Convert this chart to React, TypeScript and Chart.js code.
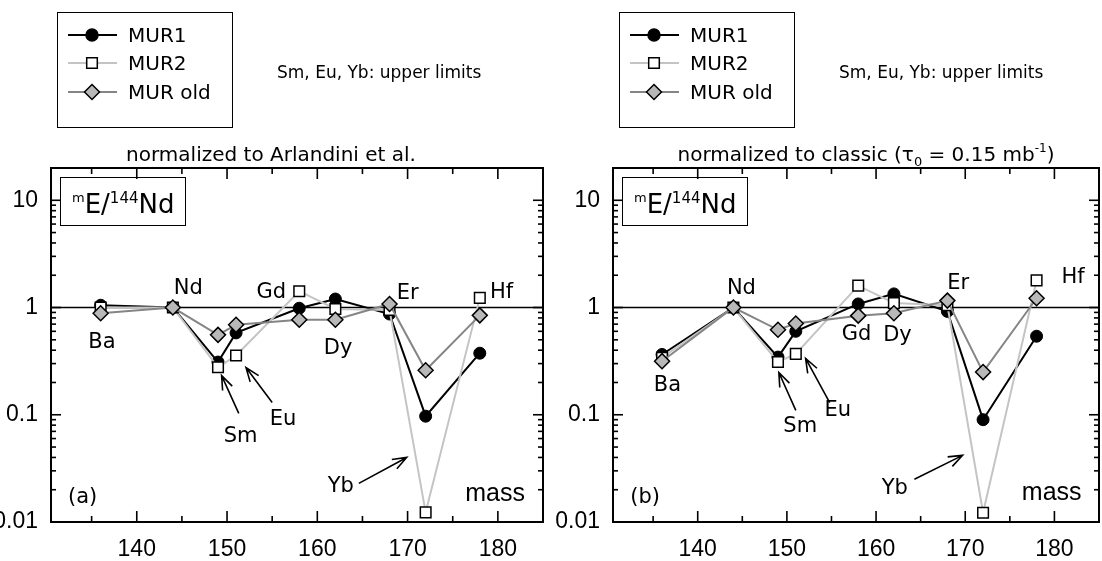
import React, { useEffect, useRef } from "react";
import { Chart, registerables } from "chart.js";

Chart.register(...registerables);

// ---------------- data ----------------
const masses = [136, 144, 149, 151, 158, 162, 168, 172, 178];
const elementLabels = ["Ba", "Nd", "Sm", "Eu", "Gd", "Dy", "Er", "Yb", "Hf"];
const xTickValues = [140, 150, 160, 170, 180];
const xMinorTicks = [135, 145, 155, 165, 175];
const yTickValues = [0.01, 0.1, 1, 10];
const seriesNames = ["MUR1", "MUR2", "MUR old"];

// panel (a): normalized to Arlandini et al.
const arlMUR1 = [1.05, 1.0, 0.31, 0.58, 0.985, 1.2, 0.87, 0.097, 0.375];
const arlMUR2 = [1.0, 1.0, 0.277, 0.357, 1.42, 0.97, 0.95, 0.0123, 1.23];
const arlMURold = [0.885, 1.0, 0.556, 0.69, 0.77, 0.77, 1.08, 0.26, 0.845];

// panel (b): normalized to classic
const clsMUR1 = [0.365, 1.0, 0.345, 0.6, 1.08, 1.34, 0.92, 0.09, 0.54];
const clsMUR2 = [0.34, 1.0, 0.31, 0.37, 1.6, 1.1, 1.05, 0.0122, 1.79];
const clsMURold = [0.316, 1.0, 0.62, 0.71, 0.84, 0.885, 1.16, 0.25, 1.22];

// ---------------- styles ----------------
const COMIC = '"DejaVu Sans", "Noto Sans", sans-serif';
const ARIAL = '"Liberation Sans", Arial, sans-serif';
const C_MUR1 = "#000000";
const C_MUR2 = "#c4c4c4";
const C_OLD = "#858585";
const C_OLD_FILL = "#b8b8b8";

type Seg = { t: string; size: number; dy?: number };
type Pt = [number, number];

interface PanelCfg {
  key: string;
  canvasLeft: number;
  canvasWidth: number;
  yAxisWidth: number;
  padRight: number;
  mur1: number[];
  mur2: number[];
  murOld: number[];
  subtitle: Seg[];
  subtitleCenter: number;
  tag: string;
  tagPos: Pt;
  massPos: Pt;
  labelPos: Record<string, Pt>;
  arrows: [Pt, Pt][];
}

const panelA: PanelCfg = {
  key: "a",
  canvasLeft: 0,
  canvasWidth: 556,
  yAxisWidth: 51,
  padRight: 13,
  mur1: arlMUR1,
  mur2: arlMUR2,
  murOld: arlMURold,
  subtitle: [{ t: "normalized to Arlandini et al.", size: 20 }],
  subtitleCenter: 220,
  tag: "(a)",
  tagPos: [134.0, 0.0169],
  massPos: [179.7, 0.0181],
  labelPos: {
    Ba: [136.15, 0.472],
    Nd: [145.7, 1.5],
    Gd: [154.9, 1.38],
    Dy: [162.3, 0.415],
    Er: [170.0, 1.35],
    Hf: [180.4, 1.38],
    Sm: [151.5, 0.0628],
    Eu: [156.2, 0.0904],
    Yb: [162.6, 0.0215],
  },
  arrows: [
    [[151.3, 0.103], [149.4, 0.232]],
    [[155.0, 0.13], [152.1, 0.276]],
    [[164.6, 0.0229], [169.9, 0.04]],
  ],
};

const panelB: PanelCfg = {
  key: "b",
  canvasLeft: 556,
  canvasWidth: 552,
  yAxisWidth: 57,
  padRight: 3,
  mur1: clsMUR1,
  mur2: clsMUR2,
  murOld: clsMURold,
  subtitle: [
    { t: "normalized to classic (", size: 20 },
    { t: "τ", size: 20 },
    { t: "0", size: 13, dy: 5 },
    { t: " = 0.15 mb", size: 20 },
    { t: "-1", size: 12, dy: -9 },
    { t: ")", size: 20 },
  ],
  subtitleCenter: 253,
  tag: "(b)",
  tagPos: [134.1, 0.0169],
  massPos: [179.7, 0.0185],
  labelPos: {
    Ba: [136.6, 0.188],
    Nd: [144.9, 1.5],
    Gd: [157.8, 0.56],
    Dy: [162.4, 0.548],
    Er: [169.2, 1.67],
    Hf: [182.1, 1.9],
    Sm: [151.5, 0.078],
    Eu: [155.7, 0.11],
    Yb: [162.1, 0.0205],
  },
  arrows: [
    [[151.0, 0.11], [149.1, 0.248]],
    [[154.8, 0.13], [152.1, 0.335]],
    [[164.3, 0.025], [169.7, 0.0418]],
  ],
};

// ---------------- drawing helpers ----------------
function seg(ctx: CanvasRenderingContext2D, x1: number, y1: number, x2: number, y2: number) {
  ctx.beginPath();
  ctx.moveTo(x1, y1);
  ctx.lineTo(x2, y2);
  ctx.stroke();
}

function drawArrow(ctx: CanvasRenderingContext2D, x1: number, y1: number, x2: number, y2: number) {
  const a = Math.atan2(y2 - y1, x2 - x1);
  const L = 15;
  const sp = 0.36;
  ctx.beginPath();
  ctx.moveTo(x1, y1);
  ctx.lineTo(x2, y2);
  ctx.moveTo(x2 - L * Math.cos(a - sp), y2 - L * Math.sin(a - sp));
  ctx.lineTo(x2, y2);
  ctx.lineTo(x2 - L * Math.cos(a + sp), y2 - L * Math.sin(a + sp));
  ctx.stroke();
}

function drawRich(ctx: CanvasRenderingContext2D, segs: Seg[], x: number, y: number, align: "left" | "center", family: string) {
  let total = 0;
  const widths = segs.map((s) => {
    ctx.font = `${s.size}px ${family}`;
    const w = ctx.measureText(s.t).width;
    total += w;
    return w;
  });
  let cx = align === "center" ? x - total / 2 : x;
  ctx.textAlign = "left";
  ctx.textBaseline = "alphabetic";
  segs.forEach((s, i) => {
    ctx.font = `${s.size}px ${family}`;
    ctx.fillText(s.t, cx, y + (s.dy || 0));
    cx += widths[i];
  });
}

function drawMarker(ctx: CanvasRenderingContext2D, kind: number, x: number, y: number) {
  ctx.lineWidth = 1.5;
  ctx.strokeStyle = "#000";
  ctx.beginPath();
  if (kind === 0) {
    ctx.fillStyle = "#000";
    ctx.arc(x, y, 6, 0, Math.PI * 2);
  } else if (kind === 1) {
    ctx.fillStyle = "#fff";
    ctx.rect(x - 5.3, y - 5.3, 10.6, 10.6);
  } else {
    ctx.fillStyle = C_OLD_FILL;
    ctx.moveTo(x, y - 7.5);
    ctx.lineTo(x + 7.5, y);
    ctx.lineTo(x, y + 7.5);
    ctx.lineTo(x - 7.5, y);
    ctx.closePath();
  }
  ctx.fill();
  ctx.stroke();
}

function makePlugin(cfg: PanelCfg) {
  return {
    id: "decor_" + cfg.key,
    beforeDatasetsDraw(chart: any) {
      const { ctx, chartArea: a, scales } = chart;
      const xs = scales.x;
      const ys = scales.y;
      ctx.save();
      ctx.strokeStyle = "#000";
      // reference line at ratio 1
      ctx.lineWidth = 1.5;
      const y1 = ys.getPixelForValue(1);
      seg(ctx, a.left, y1, a.right, y1);
      // frame
      ctx.lineWidth = 2;
      ctx.strokeRect(a.left, a.top, a.right - a.left, a.bottom - a.top);
      // x ticks (inward, bottom and top)
      ctx.lineWidth = 1.6;
      xTickValues.forEach((v) => {
        const px = xs.getPixelForValue(v);
        seg(ctx, px, a.bottom, px, a.bottom - 11);
        seg(ctx, px, a.top, px, a.top + 11);
      });
      xMinorTicks.forEach((v) => {
        const px = xs.getPixelForValue(v);
        seg(ctx, px, a.bottom, px, a.bottom - 6);
        seg(ctx, px, a.top, px, a.top + 6);
      });
      // y ticks (log, inward, left and right)
      yTickValues.forEach((d) => {
        for (let k = 1; k <= 9; k++) {
          const v = k * d;
          if (v > ys.max + 1e-9) break;
          const py = ys.getPixelForValue(v);
          const len = k === 1 ? 10 : 5;
          seg(ctx, a.left, py, a.left + len, py);
          seg(ctx, a.right, py, a.right - len, py);
        }
      });
      ctx.restore();
    },
    afterDraw(chart: any) {
      const { ctx, chartArea: a, scales } = chart;
      const xs = scales.x;
      const ys = scales.y;
      const P = (p: Pt) => [xs.getPixelForValue(p[0]), ys.getPixelForValue(p[1])];
      ctx.save();
      ctx.fillStyle = "#000";
      ctx.strokeStyle = "#000";

      // element labels
      ctx.font = `21px ${COMIC}`;
      ctx.textAlign = "center";
      ctx.textBaseline = "middle";
      elementLabels.forEach((el) => {
        const p = cfg.labelPos[el];
        if (!p) return;
        const [x, y] = P(p);
        ctx.fillText(el, x, y);
      });

      // arrows
      ctx.lineWidth = 1.6;
      cfg.arrows.forEach(([from, to]) => {
        const [x1, y1] = P(from);
        const [x2, y2] = P(to);
        drawArrow(ctx, x1, y1, x2, y2);
      });

      // panel tag and axis name
      ctx.font = `21px ${COMIC}`;
      ctx.textAlign = "center";
      ctx.textBaseline = "middle";
      const [tx, ty] = P(cfg.tagPos);
      ctx.fillText(cfg.tag, tx, ty);
      ctx.font = `25px ${ARIAL}`;
      const [mx, my] = P(cfg.massPos);
      ctx.fillText("mass", mx, my);

      // y-quantity box: mE/144Nd
      ctx.lineWidth = 1;
      ctx.strokeRect(a.left + 9.5, a.top + 9.5, 125, 48);
      drawRich(
        ctx,
        [
          { t: "m", size: 13, dy: -11 },
          { t: "E/", size: 26 },
          { t: "144", size: 15, dy: -10 },
          { t: "Nd", size: 26 },
        ],
        a.left + 21,
        a.top + 45,
        "left",
        COMIC
      );

      // subtitle
      drawRich(ctx, cfg.subtitle, a.left + cfg.subtitleCenter, 161, "center", COMIC);

      // legend box
      const lx = a.left + 6;
      ctx.lineWidth = 1;
      ctx.strokeStyle = "#000";
      ctx.strokeRect(lx + 0.5, 12.5, 175, 115);
      const rows = [35, 63, 92];
      const lineColors = [C_MUR1, C_MUR2, C_OLD];
      seriesNames.forEach((name, i) => {
        const ry = rows[i];
        ctx.strokeStyle = lineColors[i];
        ctx.lineWidth = 2;
        seg(ctx, lx + 11, ry, lx + 60, ry);
        drawMarker(ctx, i, lx + 35, ry);
        ctx.fillStyle = "#000";
        ctx.font = `20px ${COMIC}`;
        ctx.textAlign = "left";
        ctx.textBaseline = "alphabetic";
        ctx.fillText(name, lx + 71, ry + 7);
      });

      // note
      ctx.fillStyle = "#000";
      ctx.font = `17px ${COMIC}`;
      ctx.textAlign = "left";
      ctx.textBaseline = "alphabetic";
      ctx.fillText("Sm, Eu, Yb: upper limits", a.left + 226, 78);

      ctx.restore();
    },
  };
}

function buildChart(canvas: HTMLCanvasElement, cfg: PanelCfg) {
  const toPts = (vals: number[]) => masses.map((m, i) => ({ x: m, y: vals[i] }));
  return new Chart(canvas, {
    type: "line",
    data: {
      datasets: [
        {
          label: seriesNames[0],
          data: toPts(cfg.mur1),
          borderColor: C_MUR1,
          borderWidth: 2,
          pointStyle: "circle",
          pointRadius: 6,
          pointBackgroundColor: "#000",
          pointBorderColor: "#000",
          pointBorderWidth: 1,
          order: 2,
        },
        {
          label: seriesNames[1],
          data: toPts(cfg.mur2),
          borderColor: C_MUR2,
          borderWidth: 2,
          pointStyle: "rect",
          pointRadius: 7.5,
          pointBackgroundColor: "#fff",
          pointBorderColor: "#000",
          pointBorderWidth: 1.5,
          order: 1,
        },
        {
          label: seriesNames[2],
          data: toPts(cfg.murOld),
          borderColor: C_OLD,
          borderWidth: 2,
          pointStyle: "rectRot",
          pointRadius: 7.5,
          pointBackgroundColor: C_OLD_FILL,
          pointBorderColor: "#000",
          pointBorderWidth: 1.5,
          order: 0,
        },
      ],
    },
    options: {
      responsive: false,
      animation: false,
      events: [],
      layout: { padding: { top: 168, right: cfg.padRight, bottom: 0, left: 0 } },
      elements: { line: { tension: 0 } },
      plugins: {
        legend: { display: false },
        tooltip: { enabled: false },
        title: { display: false },
      },
      scales: {
        x: {
          type: "linear",
          min: 130.5,
          max: 185,
          afterBuildTicks: (s: any) => {
            s.ticks = xTickValues.map((v) => ({ value: v }));
          },
          afterFit: (s: any) => {
            s.height = 39;
          },
          grid: { display: false, drawTicks: false },
          border: { display: false },
          ticks: {
            padding: 14,
            color: "#000",
            autoSkip: false,
            maxRotation: 0,
            font: { family: ARIAL, size: 23 },
            callback: (v: any) => String(v),
          },
        },
        y: {
          type: "logarithmic",
          min: 0.01,
          max: 20,
          afterBuildTicks: (s: any) => {
            s.ticks = yTickValues.map((v) => ({ value: v }));
          },
          afterFit: (s: any) => {
            s.width = cfg.yAxisWidth;
          },
          grid: { display: false, drawTicks: false },
          border: { display: false },
          ticks: {
            padding: 13,
            color: "#000",
            autoSkip: false,
            font: { family: ARIAL, size: 23 },
            callback: (v: any) => String(v),
          },
        },
      },
    },
    plugins: [makePlugin(cfg)],
  } as any);
}

function Panel({ cfg }: { cfg: PanelCfg }) {
  const ref = useRef<HTMLCanvasElement | null>(null);
  useEffect(() => {
    if (!ref.current) return;
    const chart = buildChart(ref.current, cfg);
    return () => chart.destroy();
  }, [cfg]);
  return (
    <canvas
      ref={ref}
      width={cfg.canvasWidth}
      height={561}
      style={{
        position: "absolute",
        left: cfg.canvasLeft,
        top: 0,
        width: cfg.canvasWidth,
        height: 561,
      }}
    />
  );
}

export default function App() {
  return (
    <div
      style={{
        position: "fixed",
        left: 0,
        top: 0,
        width: 1102,
        height: 561,
        overflow: "hidden",
        background: "#fff",
      }}
    >
      <Panel cfg={panelA} />
      <Panel cfg={panelB} />
    </div>
  );
}
